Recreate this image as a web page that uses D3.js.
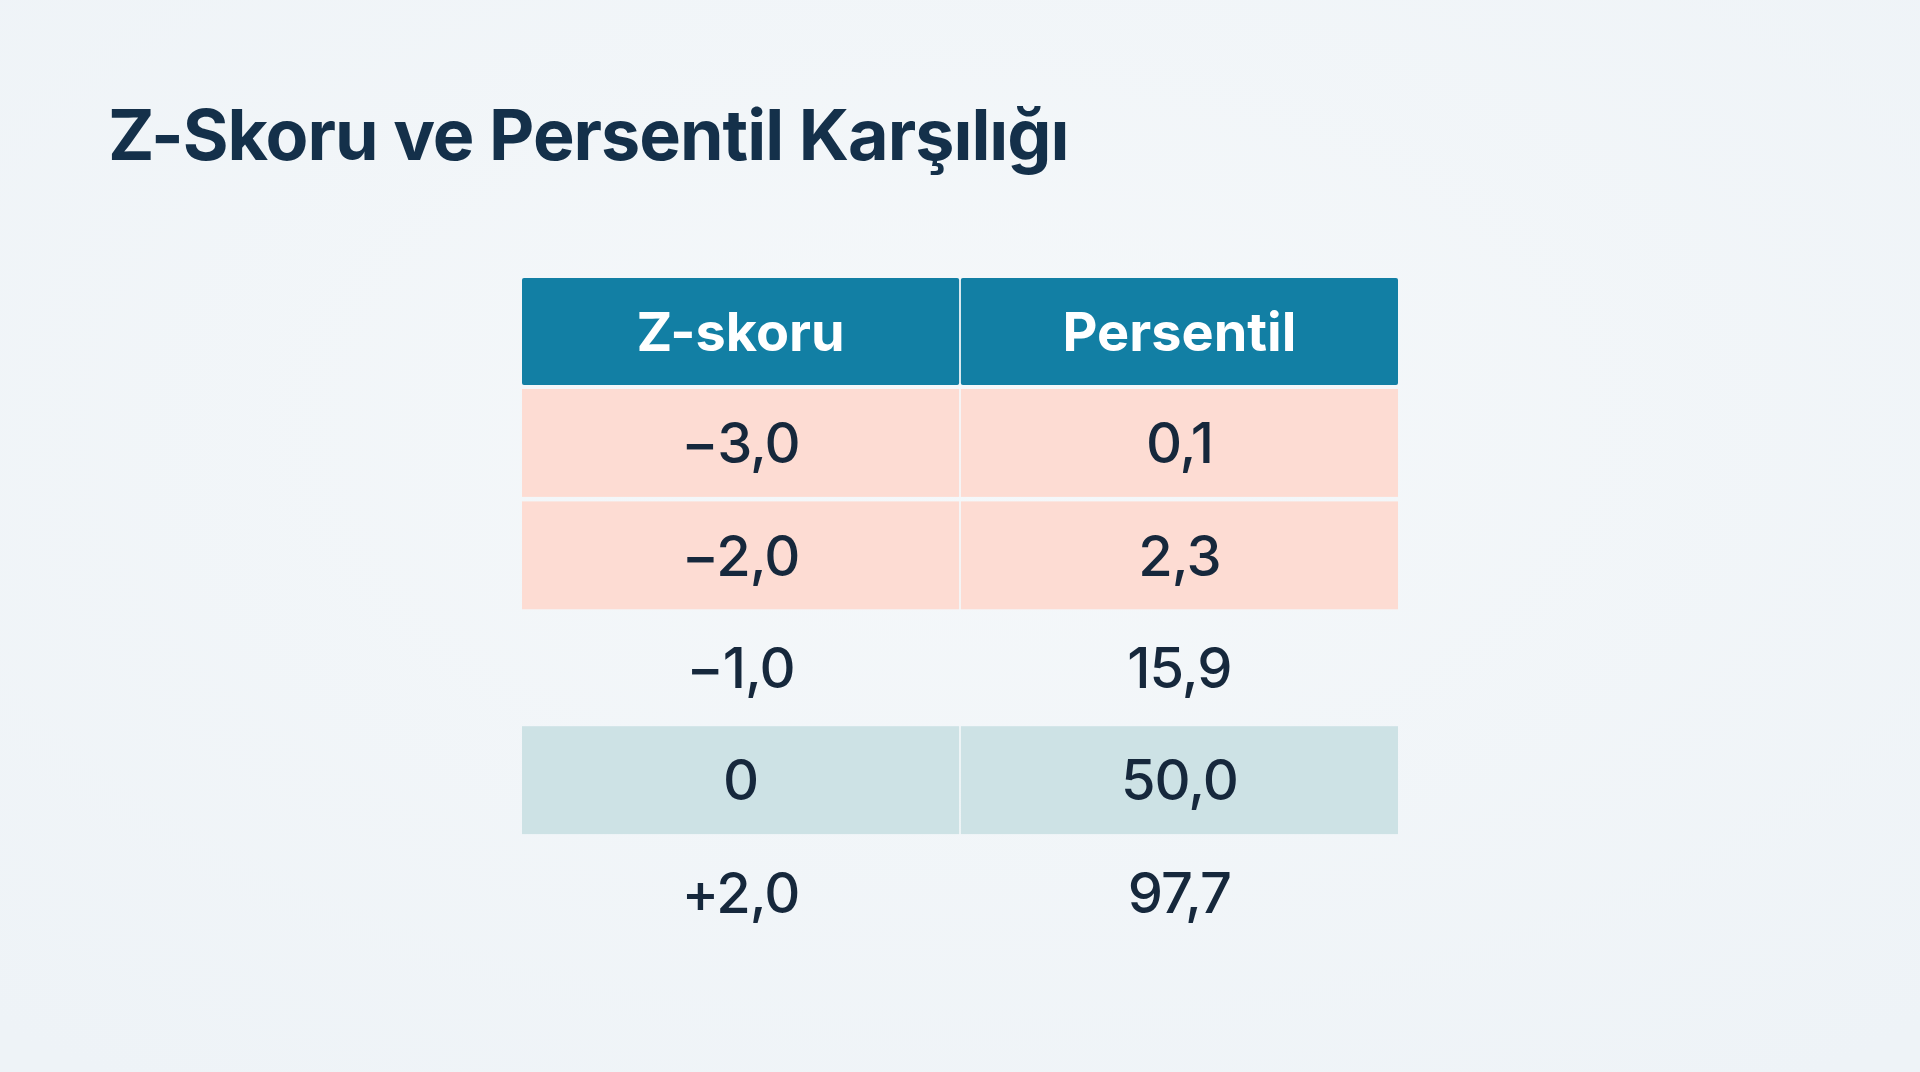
<!DOCTYPE html>
<html><head><meta charset="utf-8">
<script src="https://cdn.jsdelivr.net/npm/d3@7"></script>
<style>
html,body{margin:0;padding:0;width:1920px;height:1072px;overflow:hidden;background:#f2f6f9;}
</style></head>
<body>
<svg id="c" width="1920" height="1072"></svg>
<script>
const title = "Z-Skoru ve Persentil Karşılığı";
const headers = ["Z-skoru", "Persentil"];
const zScores = ["−3,0", "−2,0", "−1,0", "0", "+2,0"];
const percentiles = ["0,1", "2,3", "15,9", "50,0", "97,7"];
const rowKinds = ["low", "low", "none", "mid", "none"];

const fills = {low: "#fddcd3", mid: "#cde2e5", none: "none"};
const svg = d3.select("#c");
const defs = svg.append("defs");
const g = defs.append("radialGradient").attr("id","bg").attr("cx","50%").attr("cy","40%").attr("r","75%");
g.append("stop").attr("offset","0%").attr("stop-color","#f5f8fa");
g.append("stop").attr("offset","100%").attr("stop-color","#eef3f7");
svg.append("rect").attr("width",1920).attr("height",1072).attr("fill","url(#bg)");

svg.append("text").attr("x",108).attr("y",160).text(title)
  .attr("font-family","Inter, 'Open Sans', sans-serif").attr("font-weight",700)
  .attr("font-size",70).attr("fill","#14304a").attr("letter-spacing","-1");

const left = 522, right = 1398, headTop = 278, headBottom = 385, rowH = 111.5;
const x = d3.scaleBand().domain([0,1]).range([left,right]).paddingInner(0.004);
const y = d3.scaleBand().domain(d3.range(zScores.length)).range([headBottom+4, headBottom+4+rowH*zScores.length]).paddingInner(0.04);

// header
headers.forEach((h,i)=>{
  svg.append("rect").attr("x",x(i)).attr("y",headTop).attr("width",x.bandwidth()).attr("height",headBottom-headTop)
    .attr("fill","#127fa4").attr("rx",2);
  svg.append("text").attr("x",x(i)+x.bandwidth()/2).attr("y",(headTop+headBottom)/2).attr("dy","0.36em")
    .attr("text-anchor","middle").attr("font-family","Inter, sans-serif").attr("font-weight",700)
    .attr("font-size",54).attr("fill","#ffffff").text(h);
});

zScores.forEach((z,r)=>{
  [z, percentiles[r]].forEach((t,i)=>{
    if (fills[rowKinds[r]] !== "none")
      svg.append("rect").attr("x",x(i)).attr("y",y(r)).attr("width",x.bandwidth()).attr("height",y.bandwidth())
        .attr("fill",fills[rowKinds[r]]);
    svg.append("text").attr("x",x(i)+x.bandwidth()/2).attr("y",y(r)+y.bandwidth()/2).attr("dy","0.36em")
      .attr("text-anchor","middle").attr("font-family","Inter, sans-serif").attr("font-weight",500)
      .attr("font-size",56).attr("fill","#16283c").attr("letter-spacing","-1").text(t);
  });
});
</script>
</body></html>
